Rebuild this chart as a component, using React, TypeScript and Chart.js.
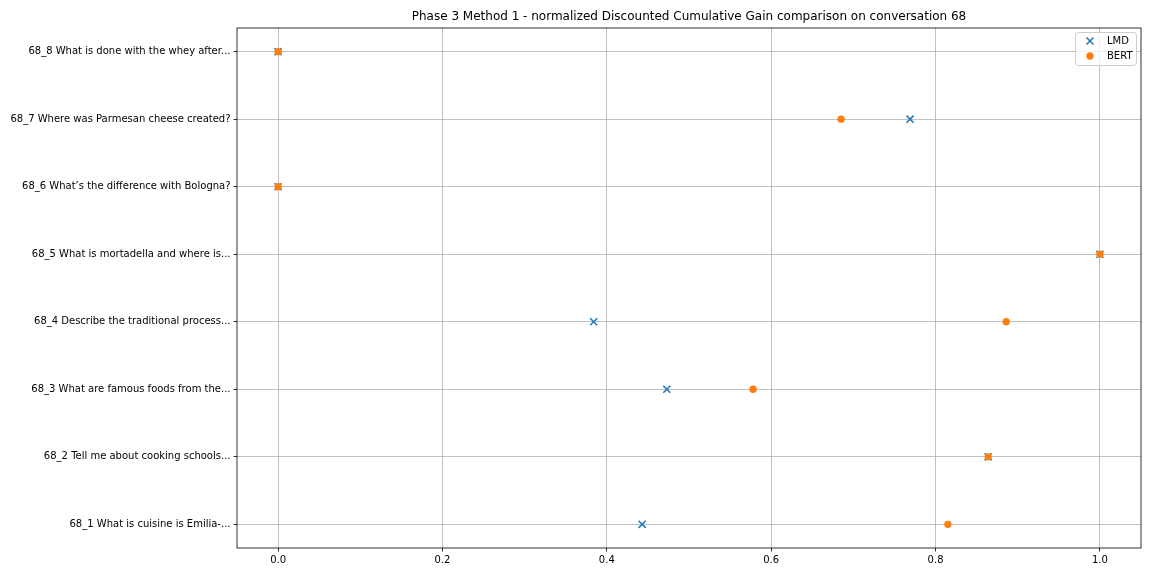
import React, { useEffect, useRef } from "react";
import { Chart, registerables } from "chart.js";
Chart.register(...registerables);

const categories = [
  "68_1 What is cuisine is Emilia-...",
  "68_2 Tell me about cooking schools...",
  "68_3 What are famous foods from the...",
  "68_4 Describe the traditional process...",
  "68_5 What is mortadella and where is...",
  "68_6 What\u2019s the difference with Bologna?",
  "68_7 Where was Parmesan cheese created?",
  "68_8 What is done with the whey after...",
];
const lmdValues = [0.443, 0.864, 0.473, 0.384, 1.0, 0.0, 0.769, 0.0];
const bertValues = [0.815, 0.864, 0.578, 0.886, 1.0, 0.0, 0.685, 0.0];
const xTicks = [0, 0.2, 0.4, 0.6, 0.8, 1.0];
const titleText = "Phase 3 Method 1 - normalized Discounted Cumulative Gain comparison on conversation 68";
const seriesNames = ["LMD", "BERT"];

const FONT = "'DejaVu Sans', sans-serif";

const framePlugin = {
  id: "frame",
  afterDatasetsDraw(chart: any) {
    const { ctx, chartArea } = chart;
    ctx.save();
    ctx.strokeStyle = "#000";
    ctx.lineWidth = 0.8;
    ctx.strokeRect(chartArea.left, chartArea.top, chartArea.right - chartArea.left, chartArea.bottom - chartArea.top);
    ctx.fillStyle = "#000";
    ctx.font = `12px ${FONT}`;
    ctx.textAlign = "center";
    ctx.textBaseline = "middle";
    ctx.fillText(titleText, (chartArea.left + chartArea.right) / 2, chartArea.top - 11);
    const bx = chartArea.right - 66;
    const by = chartArea.top + 4;
    const bw = 61;
    const bh = 33;
    ctx.fillStyle = "rgba(255,255,255,0.8)";
    ctx.strokeStyle = "#cccccc";
    ctx.lineWidth = 1;
    ctx.beginPath();
    (ctx as any).roundRect(bx + 0.5, by + 0.5, bw, bh, 3);
    ctx.fill();
    ctx.stroke();
    const mx = bx + 15;
    const y1 = by + 9;
    const y2 = by + 24;
    ctx.strokeStyle = "#1f77b4";
    ctx.lineWidth = 1.5;
    ctx.beginPath();
    ctx.moveTo(mx - 3.5, y1 - 3.5);
    ctx.lineTo(mx + 3.5, y1 + 3.5);
    ctx.moveTo(mx + 3.5, y1 - 3.5);
    ctx.lineTo(mx - 3.5, y1 + 3.5);
    ctx.stroke();
    ctx.fillStyle = "#ff7f0e";
    ctx.beginPath();
    ctx.arc(mx, y2, 3.7, 0, Math.PI * 2);
    ctx.fill();
    ctx.fillStyle = "#000";
    ctx.font = `10px ${FONT}`;
    ctx.textBaseline = "middle";
    ctx.textAlign = "left";
    ctx.fillText(seriesNames[0], bx + 32, y1);
    ctx.fillText(seriesNames[1], bx + 32, y2);
    ctx.restore();
  },
};

export default function App() {
  const ref = useRef<HTMLCanvasElement>(null);
  useEffect(() => {
    if (!ref.current) return;
    const chart = new Chart(ref.current, {
      type: "scatter",
      data: {
        datasets: [
          {
            label: seriesNames[0],
            data: lmdValues.map((v, i) => ({ x: v, y: i })),
            pointStyle: "crossRot",
            radius: 5,
            borderColor: "#1f77b4",
            backgroundColor: "#1f77b4",
            borderWidth: 1.5,
            order: 2,
          } as any,
          {
            label: seriesNames[1],
            data: bertValues.map((v, i) => ({ x: v, y: i })),
            pointStyle: "circle",
            radius: 3.7,
            borderWidth: 0,
            borderColor: "#ff7f0e",
            backgroundColor: "#ff7f0e",
            order: 1,
          } as any,
        ],
      },
      options: {
        animation: false,
        responsive: false,
        maintainAspectRatio: false,
        layout: { padding: { left: 0, right: 11, top: 28, bottom: 0 } },
        plugins: {
          legend: { display: false },
          tooltip: { enabled: false },
          title: { display: false },
        },
        scales: {
          x: {
            type: "linear",
            min: -0.05,
            max: 1.05,
            afterBuildTicks: (s: any) => {
              s.ticks = xTicks.map((v) => ({ value: v }));
            },
            afterFit: (s: any) => {
              s.height = 28;
            },
            ticks: {
              color: "#000",
              font: { family: FONT, size: 10 },
              padding: 3,
              maxRotation: 0,
              callback: (v: any) => Number(v).toFixed(1),
            },
            grid: {
              color: "#b0b0b0",
              lineWidth: 0.8,
              tickColor: "#000",
              tickLength: 3.5,
            },
            border: { display: false },
          },
          y: {
            type: "linear",
            min: -0.35,
            max: 7.35,
            afterBuildTicks: (s: any) => {
              s.ticks = categories.map((_, i) => ({ value: i }));
            },
            afterFit: (s: any) => {
              s.width = 237;
            },
            ticks: {
              color: "#000",
              font: { family: FONT, size: 10 },
              padding: 3,
              callback: (v: any) => categories[Math.round(Number(v))] ?? "",
            },
            grid: {
              color: "#b0b0b0",
              lineWidth: 0.8,
              tickColor: "#000",
              tickLength: 3.5,
            },
            border: { display: false },
          },
        },
      },
      plugins: [framePlugin],
    } as any);
    return () => chart.destroy();
  }, []);
  return (
    <div style={{ position: "absolute", left: 0, top: 0, width: 1152, height: 576, background: "#fff" }}>
      <canvas ref={ref} width={1152} height={576} style={{ width: 1152, height: 576 }} />
    </div>
  );
}
